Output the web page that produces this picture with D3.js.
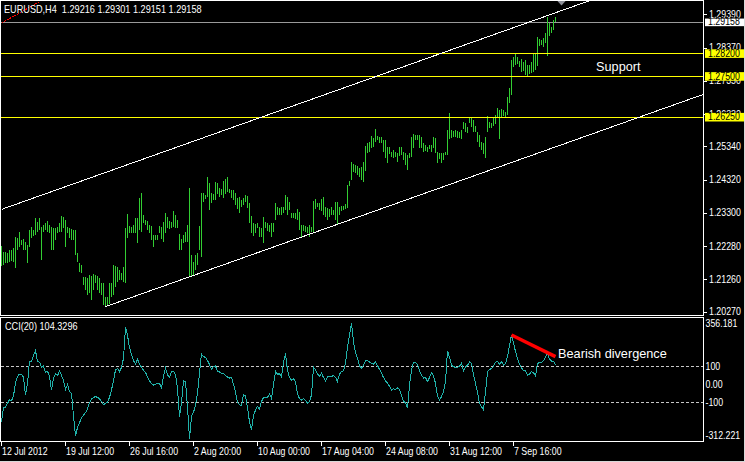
<!DOCTYPE html>
<html><head><meta charset="utf-8">
<script src="https://cdn.jsdelivr.net/npm/d3@7"></script>
<style>html,body{margin:0;padding:0;background:#000;overflow:hidden}svg{display:block}</style>
</head><body>
<svg id="c" width="745" height="462"></svg>
<script>
// ---------------- DATA ----------------
const titleText = "EURUSD,H4  1.29216 1.29301 1.29151 1.29158";
const highs = [
1.22285,1.22111,1.22111,1.22081,1.22163,1.22163,1.22214,1.22551,1.22520,1.22725,
1.22469,1.22490,1.22418,1.22316,1.22776,1.22857,1.22776,1.23133,1.23031,1.23154,
1.22878,1.22929,1.22980,1.23062,1.22929,1.22878,1.22827,1.22827,1.22857,1.22980,
1.23215,1.23185,1.23082,1.22857,1.22827,1.22796,1.22776,1.22776,1.22060,1.21774,
1.21702,1.21345,1.21345,1.21293,1.21396,1.21365,1.21426,1.21396,1.21365,1.21293,
1.21161,1.21140,1.20731,1.20731,1.21140,1.21140,1.21702,1.21672,1.21651,1.21549,
1.21467,1.21651,1.22827,1.23266,1.22898,1.22878,1.22929,1.23133,1.23133,1.23747,
1.23900,1.23236,1.23082,1.23062,1.22929,1.22898,1.22622,1.22622,1.22622,1.22898,
1.22878,1.23031,1.23307,1.23185,1.23062,1.23031,1.23358,1.23236,1.23082,1.22653,
1.22490,1.22622,1.22725,1.22929,1.24064,1.22009,1.21794,1.22009,1.22070,1.22898,
1.23900,1.23900,1.23849,1.24390,1.24227,1.23900,1.23879,1.24258,1.24227,1.24053,
1.24023,1.24288,1.24329,1.24390,1.24023,1.24002,1.24002,1.23900,1.23747,1.23798,
1.23695,1.23747,1.23849,1.23818,1.23593,1.23205,1.22980,1.22959,1.23000,1.22878,
1.22827,1.23164,1.23031,1.22980,1.22929,1.22980,1.22980,1.23593,1.23491,1.23440,
1.23491,1.23491,1.23849,1.23798,1.23644,1.23287,1.23287,1.23287,1.23409,1.23338,
1.22929,1.22929,1.22898,1.22878,1.22929,1.22878,1.23675,1.23716,1.23614,1.23614,
1.23716,1.23798,1.23491,1.23440,1.23409,1.23491,1.23389,1.23644,1.23644,1.23491,
1.23511,1.23511,1.23573,1.24155,1.24288,1.24871,1.24799,1.24769,1.24738,1.24666,
1.24718,1.24871,1.25351,1.25433,1.25484,1.25658,1.25586,1.25862,1.25658,1.25637,
1.25617,1.25535,1.25535,1.25331,1.25331,1.25177,1.25229,1.25177,1.25126,1.25331,
1.25331,1.25177,1.25126,1.25075,1.25126,1.25617,1.25719,1.25689,1.25689,1.25689,
1.25637,1.25433,1.25382,1.25331,1.25382,1.25382,1.25637,1.25586,1.25177,1.25147,
1.25126,1.25147,1.25177,1.25842,1.26353,1.25842,1.25821,1.25842,1.25821,1.25791,
1.25842,1.26097,1.26046,1.25944,1.26230,1.26230,1.26148,1.25965,1.25791,1.25689,
1.25484,1.25433,1.25617,1.26271,1.26097,1.26067,1.26200,1.26302,1.26506,1.26455,
1.26476,1.26455,1.26404,1.26864,1.27119,1.27989,1.28070,1.28173,1.28091,1.27968,
1.28009,1.27937,1.27989,1.27835,1.27835,1.27937,1.28173,1.28173,1.28683,1.28622,
1.28602,1.28653,1.28827,1.29317,1.29113,1.29011,1.29215,1.29301];
const lows = [
1.21672,1.21702,1.21753,1.21753,1.21805,1.21825,1.21805,1.21600,1.22163,1.22265,
1.22316,1.22163,1.22163,1.21753,1.22265,1.22520,1.22592,1.22622,1.22725,1.22776,
1.21856,1.22725,1.22776,1.22725,1.22673,1.22163,1.22163,1.22469,1.22694,1.22725,
1.22725,1.22827,1.22265,1.22673,1.22520,1.22469,1.22469,1.22009,1.21805,1.21498,
1.21447,1.21089,1.20936,1.20782,1.20834,1.20629,1.20936,1.21140,1.20936,1.20834,
1.20782,1.20476,1.20425,1.20476,1.20506,1.20731,1.20782,1.21038,1.21191,1.21242,
1.21242,1.21191,1.21161,1.22520,1.22694,1.22673,1.22694,1.22673,1.22387,1.22776,
1.22725,1.22980,1.22929,1.22776,1.22673,1.22469,1.22244,1.22469,1.22469,1.22673,
1.22490,1.22418,1.22673,1.22827,1.22796,1.22827,1.22878,1.22827,1.22827,1.22163,
1.22163,1.22387,1.22418,1.22407,1.21334,1.21334,1.21396,1.21549,1.21702,1.22162,
1.21957,1.23644,1.23716,1.23798,1.23389,1.23593,1.23695,1.23695,1.23879,1.23798,
1.23849,1.23747,1.23879,1.23951,1.23920,1.23747,1.23695,1.23542,1.23409,1.23287,
1.23491,1.23542,1.23644,1.23440,1.22980,1.22673,1.22591,1.22694,1.22827,1.22571,
1.22551,1.22387,1.22827,1.22755,1.22724,1.22571,1.22724,1.23082,1.23235,1.23235,
1.23235,1.23287,1.23389,1.23235,1.23389,1.23133,1.23133,1.23102,1.23082,1.22775,
1.22571,1.22745,1.22724,1.22673,1.22551,1.22724,1.22673,1.23409,1.23471,1.23389,
1.23368,1.23235,1.23184,1.23082,1.23184,1.23235,1.23235,1.23082,1.22959,1.23235,
1.23358,1.23389,1.23409,1.23440,1.24125,1.24309,1.24564,1.24534,1.24462,1.24411,
1.24309,1.24258,1.24595,1.25126,1.25178,1.25280,1.25331,1.25484,1.25535,1.25453,
1.25453,1.25177,1.24973,1.24820,1.25106,1.25024,1.24973,1.25024,1.24871,1.25044,
1.25075,1.24922,1.24769,1.24615,1.24973,1.25024,1.25280,1.25535,1.25535,1.25280,
1.25280,1.25177,1.25208,1.25177,1.25249,1.25177,1.25280,1.25126,1.24820,1.24942,
1.24840,1.24922,1.25075,1.25075,1.25556,1.25586,1.25637,1.25617,1.25586,1.25586,
1.25556,1.25862,1.25791,1.25740,1.26067,1.25944,1.25791,1.25791,1.25484,1.25331,
1.25229,1.25106,1.24973,1.25791,1.25893,1.25893,1.25965,1.26026,1.26251,1.25556,
1.26230,1.26271,1.26230,1.26302,1.26660,1.26915,1.27784,1.27835,1.27866,1.27764,
1.27631,1.27661,1.27528,1.27498,1.27559,1.27600,1.27631,1.27682,1.27805,1.28418,
1.28449,1.28397,1.28500,1.28111,1.28724,1.28806,1.28909,1.29151];
const cciValues = [
-209.3,-133.4,-127.8,-107.5,-87.1,-92.6,-66.7,9.2,42.6,55.5,
55.5,37.0,-61.2,3.7,127.8,127.8,157.4,185.2,124.0,122.2,
94.4,100.0,64.8,70.3,44.4,-33.4,31.4,57.4,46.3,72.2,
48.1,20.3,-29.7,-3.7,-40.8,-51.9,-177.8,-290,-240.8,-214.9,
-188.9,-174.1,-159.3,-138.9,-103.8,-83.4,-74.1,-70.4,-74.1,-81.5,
-96.3,-114.9,-107.5,-100.0,-74.1,-33.4,20.3,77.7,87.0,68.5,
92.6,142.6,315,270.3,201.8,164.8,129.6,111.1,137.0,111.1,
92.6,75.9,64.8,40.7,18.5,1.8,-5.6,-3.7,5.5,3.7,
-20.4,46.3,90.7,49.9,37.0,70.3,70.3,51.8,-24.1,-181.5,
-101.9,18.5,12.9,-126.0,-305,-177.8,-157.5,-118.6,-51.9,62.9,
166.6,151.8,148.1,129.6,109.2,81.4,98.1,100.0,68.5,66.6,
59.2,57.4,48.1,38.9,33.3,35.1,-1.9,-44.5,-101.9,-114.9,
-120,-57.5,-66.7,-129.7,-211.2,-255.6,-172.3,-146.4,-124.1,-138.9,
-98.2,-74.1,-74.1,-74.1,-55.6,-79.7,-3.7,70.3,53.7,57.4,
40.7,118.5,170.3,74.0,37.0,22.2,29.6,11.1,-55.6,-81.5,
-88.9,-79.7,-90.8,-107.5,-96.3,-61.2,94.4,79.6,57.4,42.6,
59.2,37.0,18.5,40.7,40.7,40.7,48.1,37.0,14.8,55.5,
68.5,74.0,118.5,203.7,270.3,340,233.3,177.7,142.6,101.8,
87.0,105.5,129.6,129.6,122.2,114.8,111.1,122.2,101.8,81.4,
59.2,37.0,16.6,5.5,-13.0,-33.4,-26.0,-31.5,-22.3,-29.7,
-66.7,-94.5,-103.8,-135.2,-7.5,77.7,118.5,120.3,107.4,74.0,
49.9,33.3,35.1,14.8,35.1,62.9,46.3,3.7,-66.7,-87.1,
-70.4,-42.6,12.9,185.2,148,105.5,96.3,92.6,92.6,98.1,
114.8,72.2,96.3,103.7,122.2,114.8,51.8,3.7,-46.3,-107.5,
-126.0,-142.6,-42.6,68.5,79.6,87.0,98.1,120.3,125.9,111.1,
124.0,105.5,112.9,151.8,214.8,272.2,227.8,179.6,142.6,111.1,
90.7,74.0,72.2,49.9,53.7,68.5,62.9,44.4,114.8,118.5,
120.3,129.6,148.1,170.3,138.9,127.8,127.8,104.33];
const cciTitle = "CCI(20) 104.3296";
const timeLabels = ["12 Jul 2012","19 Jul 12:00","26 Jul 16:00","2 Aug 20:00","10 Aug 00:00","17 Aug 04:00","24 Aug 08:00","31 Aug 12:00","7 Sep 16:00"];
const timeLabelBars = [0,32,64,96,128,160,192,224,256];
const priceTicks = [1.29390,1.28370,1.27350,1.26330,1.25340,1.24320,1.23300,1.22280,1.21260,1.20270];
const priceRange = [1.20270, 1.29390];
const supportLevels = [1.28200, 1.27500, 1.26250];
const bidPrice = 1.29158;
const cciRange = [-312.221, 356.181];
const cciLevels = [100, -100];
const cciTickLabels = [["356.181",356.181],["100",100],["0.00",0],["-100",-100],["-312.221",-312.221]];
// trend objects: [barIndex, price] anchors
const upperChannel = [[0,1.23407],[277,1.29438]];
const lowerChannel = [[52,1.20425],[277,1.25324]];
const redTrend = [[0,1.29120],[19,1.29776]];
const divergenceLine = [[255,272],[277,152]];
const supportText = {bar:297.3, price:1.27660, text:"Support"};
const divergenceText = {bar:278.3, value:147, text:"Bearish divergence"};
const shiftMarkerBar = 280;

// ---------------- DRAW ----------------
const W=745,H=462;
const svg=d3.select("#c");
const FONT="'Liberation Sans', Arial, sans-serif";
svg.append("rect").attr("width",W).attr("height",H).attr("fill","#000");

const x=d3.scaleLinear().domain([0,277]).range([1.5,555.5]);
const yP=d3.scaleLinear().domain(priceRange).range([311.7,14.3]);
const yC=d3.scaleLinear().domain(cciRange).range([440.2,319.9]);
const plotR=703.5;

const defs=svg.append("defs");
defs.append("clipPath").attr("id","mc").append("rect").attr("x",1).attr("y",1).attr("width",702).attr("height",314);
defs.append("clipPath").attr("id","sc").append("rect").attr("x",1).attr("y",318).attr("width",702).attr("height",123);

function txt(g,xx,yy,s,o={}){
  const t=g.append("text").attr("x",xx).attr("y",yy).text(s)
    .attr("fill",o.fill||"#fff").attr("font-family",FONT).attr("font-size",o.size||10.5)
    .style("white-space","pre");
  const sx=o.sx===undefined?0.84:o.sx;
  if(sx!==1){const L=t.node().getComputedTextLength();t.attr("textLength",L*sx).attr("lengthAdjust","spacingAndGlyphs");}
  return t;
}
const AX={size:10,sx:0.88};

const main=svg.append("g").attr("clip-path","url(#mc)");
// bid line
main.append("line").attr("x1",0).attr("x2",plotR).attr("y1",Math.round(yP(bidPrice))+0.5).attr("y2",Math.round(yP(bidPrice))+0.5)
  .attr("stroke","#9a9a9a").attr("shape-rendering","crispEdges");
// bars
main.append("g").selectAll("line").data(highs).join("line")
  .attr("x1",(d,i)=>x(i)).attr("x2",(d,i)=>x(i))
  .attr("y1",d=>Math.round(yP(d))).attr("y2",(d,i)=>Math.max(Math.round(yP(lows[i])),Math.round(yP(d))+1))
  .attr("stroke","#32CD32").attr("stroke-width",1).attr("shape-rendering","crispEdges");
// horizontal levels
main.append("g").selectAll("line").data(supportLevels).join("line")
  .attr("x1",0).attr("x2",plotR).attr("y1",d=>Math.round(yP(d))+0.5).attr("y2",d=>Math.round(yP(d))+0.5)
  .attr("stroke","#ffff00").attr("shape-rendering","crispEdges");
// channel rays
function ray(a,g,col){
  const X0=x(a[0][0]),Y0=yP(a[0][1]),X1=x(a[1][0]),Y1=yP(a[1][1]);
  const m=(Y1-Y0)/(X1-X0);
  const xe=plotR;
  g.append("line").attr("x1",X0).attr("y1",Y0).attr("x2",xe).attr("y2",Y0+m*(xe-X0))
    .attr("stroke",col).attr("stroke-width",1).attr("shape-rendering","crispEdges");
}
ray(upperChannel,main,"#ffffff");
ray(lowerChannel,main,"#ffffff");
// red dotted trend at top-left
main.append("line").attr("x1",x(redTrend[0][0])).attr("y1",yP(redTrend[0][1])).attr("x2",x(redTrend[1][0])).attr("y2",yP(redTrend[1][1]))
  .attr("stroke","#ff0000").attr("stroke-dasharray","2,1").attr("shape-rendering","crispEdges");
// chart shift marker
const sx0=x(shiftMarkerBar);
main.append("polygon").attr("points",`${sx0-5},0 ${sx0+5},0 ${sx0},5.5`).attr("fill","#8e9099");
// support text
txt(svg,x(supportText.bar),yP(supportText.price),supportText.text,{size:12.7,sx:1});
// title
txt(svg,4,12.5,titleText,{size:10.5,sx:0.87});

// price axis
const ax=svg.append("g");
priceTicks.forEach(v=>{
  const yy=Math.round(yP(v))+0.5;
  ax.append("line").attr("x1",704).attr("x2",707).attr("y1",yy).attr("y2",yy).attr("stroke","#fff").attr("shape-rendering","crispEdges");
  txt(ax,709,yP(v)+3.6,d3.format(".5f")(v),AX);
});
supportLevels.forEach(v=>{
  const yy=yP(v);
  ax.append("rect").attr("x",705).attr("y",yy-3.8).attr("width",39).attr("height",8.6).attr("fill","#ffff00");
  txt(ax,708,yy+3.6,d3.format(".5f")(v),{fill:"#000",size:10,sx:0.88});
});
{
  const yy=yP(bidPrice);
  ax.append("rect").attr("x",705).attr("y",yy-3.3).attr("width",39).attr("height",7.6).attr("fill","#ffffff");
  txt(ax,708,yy+3.6,d3.format(".5f")(bidPrice),{fill:"#000",size:10,sx:0.88});
}

// CCI panel
const sub=svg.append("g").attr("clip-path","url(#sc)");
sub.append("g").selectAll("line").data(cciLevels).join("line")
  .attr("x1",1).attr("x2",plotR).attr("y1",d=>Math.round(yC(d))+0.5).attr("y2",d=>Math.round(yC(d))+0.5)
  .attr("stroke","#c8c8c8").attr("stroke-dasharray","3,2").attr("shape-rendering","crispEdges");
sub.append("path").datum(cciValues)
  .attr("d",d3.line().x((d,i)=>x(i)).y(d=>yC(d)))
  .attr("fill","none").attr("stroke","#20B2AA").attr("stroke-width",1).attr("shape-rendering","crispEdges");
sub.append("line").attr("x1",x(divergenceLine[0][0])).attr("y1",yC(divergenceLine[0][1]))
  .attr("x2",x(divergenceLine[1][0])).attr("y2",yC(divergenceLine[1][1]))
  .attr("stroke","#ff0000").attr("stroke-width",3.5);
txt(svg,x(divergenceText.bar),yC(divergenceText.value),divergenceText.text,{size:12.7,sx:1});
txt(svg,5,330,cciTitle,{size:10.5,sx:0.87});
cciTickLabels.forEach(([s,v],k)=>{
  let yy=yC(v)+3.6;
  if(k===0) yy=yC(v)+7;
  if(k===cciTickLabels.length-1) yy=yC(v)-1.5;
  txt(svg,705.5,yy,s,AX);
});

// time axis
timeLabelBars.forEach((b,k)=>{
  const xx=x(b);
  svg.append("line").attr("x1",xx).attr("x2",xx).attr("y1",441).attr("y2",445.5).attr("stroke","#fff").attr("shape-rendering","crispEdges");
  txt(svg,xx+0.5,455,timeLabels[k]);
});

// frames
const fr=svg.append("g").attr("fill","none").attr("stroke","#ffffff").attr("shape-rendering","crispEdges");
fr.append("rect").attr("x",0.5).attr("y",0.5).attr("width",703).attr("height",315);
fr.append("rect").attr("x",0.5).attr("y",317.5).attr("width",703).attr("height",124);
svg.append("line").attr("x1",744.5).attr("x2",744.5).attr("y1",0).attr("y2",462).attr("stroke","#d8d8d8").attr("shape-rendering","crispEdges");
svg.append("line").attr("x1",0).attr("x2",745).attr("y1",461.5).attr("y2",461.5).attr("stroke","#d8d8d8").attr("shape-rendering","crispEdges");
</script>
</body></html>
